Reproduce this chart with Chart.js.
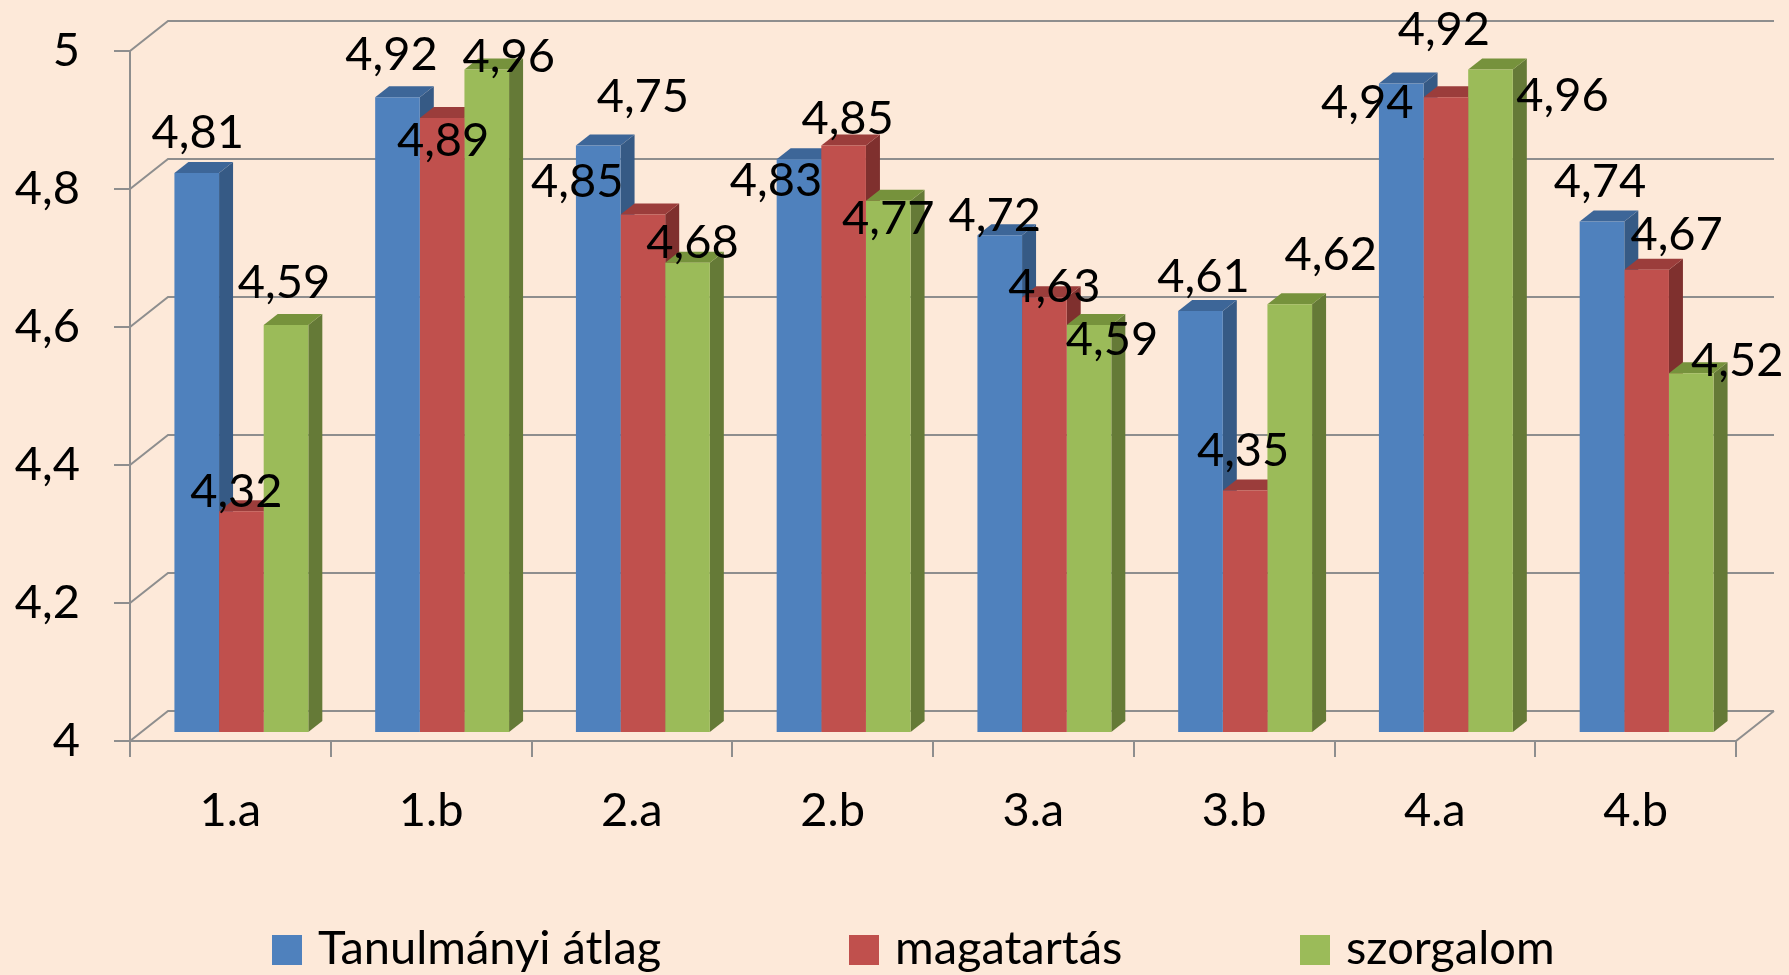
<!DOCTYPE html>
<html>
<head>
<meta charset="utf-8">
<script src="https://cdn.jsdelivr.net/npm/chart.js@4.4.1/dist/chart.umd.min.js"></script>
<style>
    html, body { margin: 0; padding: 0; background: #fde9d9; overflow: hidden; }
    #wrap { width: 1789px; height: 975px; position: relative; }
</style>
</head>
<body>
<div id="wrap"><canvas id="grades-chart"></canvas></div>
<script>
// Class averages
const classes = ['1.a', '1.b', '2.a', '2.b', '3.a', '3.b', '4.a', '4.b'];
const tanulmanyi = [4.81, 4.92, 4.85, 4.83, 4.72, 4.61, 4.94, 4.74];
const magatartas = [4.32, 4.89, 4.75, 4.85, 4.63, 4.35, 4.92, 4.67];
const szorgalom = [4.59, 4.96, 4.68, 4.77, 4.59, 4.62, 4.96, 4.52];
const seriesNames = ['Tanulmányi átlag', 'magatartás', 'szorgalom'];
const yTicks = [4, 4.2, 4.4, 4.6, 4.8, 5];

// Styling
const FONT = 'Lato';
const FONT_SIZE = 47;
const GRID = '#8e8e8e';
const WALL_DX = 38, WALL_DY = -30;    // depth of the back wall
const BAR_DX = 11, BAR_DY = -9;       // bars sit a bit behind the front plane
const FACE_DX = 14, FACE_DY = -11;    // bar depth
const faces = [
    { front: '#4f81bd', top: '#3d6698', side: '#365a85' },
    { front: '#c0504d', top: '#9b3d3b', side: '#7f302e' },
    { front: '#9bbb59', top: '#76923c', side: '#657a37' }
];
// label nudges from the bar top (Excel's 3D label placement), per series / class
const labelNudge = [
    [[1, -42], [-6, -44], [-21, 34], [-23, 20], [-5, -21], [3, -36], [-34, 17], [-2, -42]],
    [[-5, -21], [1, 21], [0, -120], [4, -29], [10, -12], [-2, -42], [-2, -69], [30, -37]],
    [[-2, -44], [22, -15], [5, -22], [0, 16], [23, 13], [41, -51], [72, 24], [46, -14]]
];
const legendX = [272, 849, 1300];

const fmt = v => (Math.round(v * 100) / 100).toString().replace('.', ',');

const threeD = {
    id: 'threeD',
    beforeDatasetsDraw(chart) {
        const ctx = chart.ctx;
        const a = chart.chartArea;
        const y = chart.scales.y;
        const x = chart.scales.x;

        ctx.save();
        ctx.strokeStyle = GRID;
        ctx.lineWidth = 2;
        ctx.beginPath();
        // back wall grid + left wall diagonals + y tick marks
        y.ticks.forEach(t => {
            const py = Math.round(y.getPixelForValue(t.value));
            ctx.moveTo(a.left - 16, py);
            ctx.lineTo(a.left, py);
            ctx.lineTo(a.left + WALL_DX, py + WALL_DY);
            ctx.lineTo(a.right + WALL_DX, py + WALL_DY);
        });
        // front axes
        ctx.moveTo(a.left, a.top);
        ctx.lineTo(a.left, a.bottom + 16);
        ctx.moveTo(a.left, a.bottom);
        ctx.lineTo(a.right, a.bottom);
        ctx.lineTo(a.right + WALL_DX, a.bottom + WALL_DY);
        // category tick marks
        const step = x.width / classes.length;
        for (let k = 0; k <= classes.length; k++) {
            const px = Math.round(x.left + k * step);
            ctx.moveTo(px, a.bottom);
            ctx.lineTo(px, a.bottom + 16);
        }
        ctx.stroke();
        ctx.restore();

        // shift bars back, draw their tops and sides; fronts come from Chart.js
        ctx.save();
        ctx.translate(BAR_DX, BAR_DY);
        for (let i = 0; i < classes.length; i++) {
            chart.data.datasets.forEach((ds, d) => {
                const bar = chart.getDatasetMeta(d).data[i];
                const l = bar.x - bar.width / 2, r = bar.x + bar.width / 2;
                const top = bar.y, bot = bar.base;
                ctx.fillStyle = faces[d].side;
                ctx.beginPath();
                ctx.moveTo(r, top);
                ctx.lineTo(r + FACE_DX, top + FACE_DY);
                ctx.lineTo(r + FACE_DX, bot + FACE_DY);
                ctx.lineTo(r, bot);
                ctx.closePath();
                ctx.fill();
                ctx.fillStyle = faces[d].top;
                ctx.beginPath();
                ctx.moveTo(l, top);
                ctx.lineTo(l + FACE_DX, top + FACE_DY);
                ctx.lineTo(r + FACE_DX, top + FACE_DY);
                ctx.lineTo(r, top);
                ctx.closePath();
                ctx.fill();
            });
        }
    },
    afterDatasetsDraw(chart) {
        const ctx = chart.ctx;
        ctx.restore();

        // value labels
        ctx.save();
        ctx.font = `${FONT_SIZE}px ${FONT}`;
        ctx.fillStyle = '#000';
        ctx.textAlign = 'center';
        ctx.textBaseline = 'middle';
        chart.data.datasets.forEach((ds, d) => {
            chart.getDatasetMeta(d).data.forEach((bar, i) => {
                const n = labelNudge[d][i];
                ctx.fillText(fmt(ds.data[i]), bar.x + BAR_DX + n[0], bar.y + BAR_DY + n[1] + 2);
            });
        });
        ctx.restore();
    },
    afterDraw(chart) {
        // legend along the bottom edge
        const ctx = chart.ctx;
        ctx.save();
        ctx.font = `${FONT_SIZE}px ${FONT}`;
        ctx.textBaseline = 'alphabetic';
        ctx.textAlign = 'left';
        chart.data.datasets.forEach((ds, d) => {
            const lx = legendX[d];
            ctx.fillStyle = ds.backgroundColor;
            ctx.fillRect(lx, 935, 30, 30);
            ctx.fillStyle = '#000';
            ctx.fillText(ds.label, lx + 46, 964);
        });
        ctx.restore();
    }
};

const ctx = document.getElementById('grades-chart').getContext('2d');
Chart.defaults.font.family = FONT;

new Chart(ctx, {
    type: 'bar',
    data: {
        labels: classes,
        datasets: [
            { label: seriesNames[0], data: tanulmanyi, backgroundColor: faces[0].front },
            { label: seriesNames[1], data: magatartas, backgroundColor: faces[1].front },
            { label: seriesNames[2], data: szorgalom, backgroundColor: faces[2].front }
        ]
    },
    options: {
        responsive: true,
        maintainAspectRatio: false,
        animation: false,
        layout: { padding: { top: 51, right: 53, left: 0, bottom: 0 } },
        datasets: {
            bar: {
                base: yTicks[0],
                categoryPercentage: 0.667,
                barPercentage: 1.0,
                borderWidth: 0,
                clip: false
            }
        },
        plugins: {
            legend: { display: false },
            tooltip: { enabled: false }
        },
        scales: {
            x: {
                grid: { display: false, drawTicks: false },
                border: { display: false },
                ticks: { color: '#000', font: { size: FONT_SIZE }, padding: 42, maxRotation: 0 },
                afterFit: s => { s.height = 234; s.paddingLeft = 0; s.paddingRight = 0; }
            },
            y: {
                min: yTicks[0],
                max: yTicks[yTicks.length - 1],
                beginAtZero: false,
                grid: { display: false, drawTicks: false },
                border: { display: false },
                afterBuildTicks: s => { s.ticks = yTicks.map(v => ({ value: v })); },
                ticks: {
                    color: '#000',
                    font: { size: FONT_SIZE },
                    padding: 50,
                    callback: v => fmt(v)
                },
                afterFit: s => { s.width = 130; s.paddingTop = 0; s.paddingBottom = 0; }
            }
        }
    },
    plugins: [threeD]
});
</script>
</body>
</html>
